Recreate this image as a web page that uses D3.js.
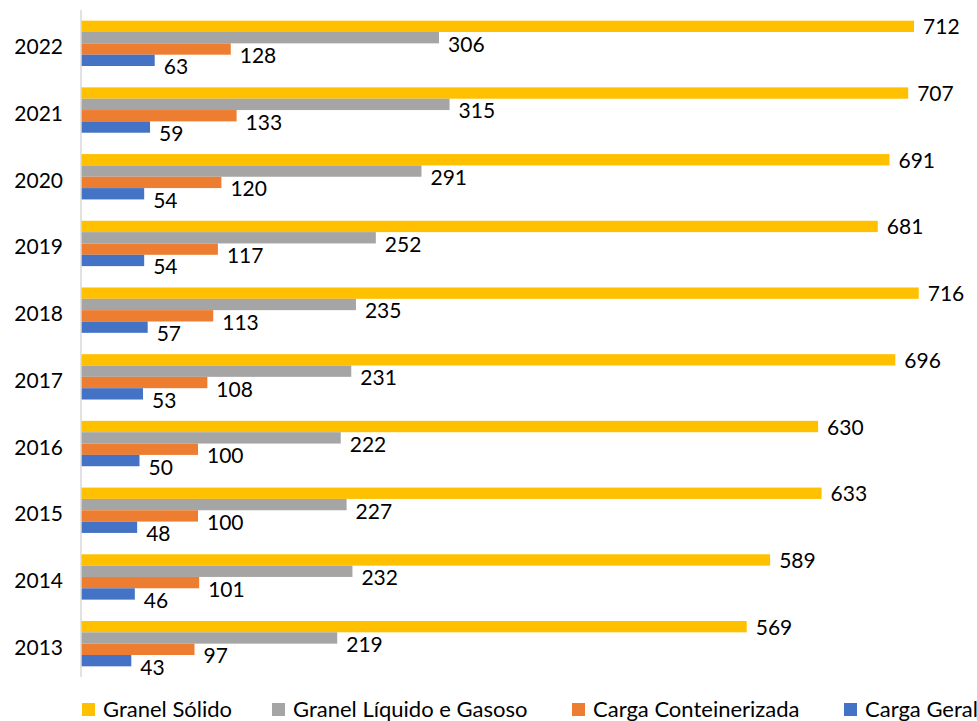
<!DOCTYPE html>
<html>
<head>
  <meta charset="utf-8">
  <script src="https://d3js.org/d3.v7.min.js"></script>
  <style>
    body { margin: 0; background: white; }
    text { font-family: Lato, "Open Sans", sans-serif; fill: #000; }
  </style>
</head>
<body>
  <div id="chart"></div>
  <script>
    var years = ["2022", "2021", "2020", "2019", "2018", "2017", "2016", "2015", "2014", "2013"];
    var seriesNames = ["Granel Sólido", "Granel Líquido e Gasoso", "Carga Conteinerizada", "Carga Geral"];
    var seriesColors = ["#FFC000", "#A5A5A5", "#ED7D31", "#4472C4"];

    var granelSolido = [712, 707, 691, 681, 716, 696, 630, 633, 589, 569];
    var granelLiquido = [306, 315, 291, 252, 235, 231, 222, 227, 232, 219];
    var cargaConteinerizada = [128, 133, 120, 117, 113, 108, 100, 100, 101, 97];
    var cargaGeral = [63, 59, 54, 54, 57, 53, 50, 48, 46, 43];

    var allSeries = [granelSolido, granelLiquido, cargaConteinerizada, cargaGeral];

    var width = 977, height = 721;
    var left = 81;

    var svg = d3.select("#chart").append("svg")
      .attr("width", width)
      .attr("height", height);

    var x = d3.scaleLinear().domain([0, 700]).range([left, left + 819]);

    var y = d3.scaleBand().domain(years).range([10, 677])
      .paddingInner(0.32).paddingOuter(0.16);

    var ySub = d3.scaleBand().domain(d3.range(seriesNames.length))
      .range([0, y.bandwidth()]);

    // bars
    var groups = svg.selectAll("g.year")
      .data(years)
      .enter().append("g")
      .attr("class", "year")
      .attr("transform", function (d) { return "translate(0," + y(d) + ")"; });

    groups.each(function (yr, i) {
      var g = d3.select(this);
      allSeries.forEach(function (vals, s) {
        var v = vals[i];
        var yy = ySub(s);
        g.append("rect")
          .attr("x", x(0))
          .attr("y", yy)
          .attr("width", x(v) - x(0))
          .attr("height", ySub.bandwidth())
          .attr("fill", seriesColors[s]);
        var mid = yy + ySub.bandwidth() / 2;
        g.append("text")
          .attr("x", x(v) + 9)
          .attr("y", mid + (s === 0 ? 8 : 14))
          .attr("font-size", "21px")
          .text(v);
      });
    });

    // axis line
    svg.append("line")
      .attr("x1", left).attr("x2", left)
      .attr("y1", 10).attr("y2", 677)
      .attr("stroke", "#D9D9D9")
      .attr("stroke-width", 1.5);

    // year labels
    svg.selectAll("text.ylab")
      .data(years)
      .enter().append("text")
      .attr("class", "ylab")
      .attr("x", 63)
      .attr("y", function (d) { return y(d) + y.bandwidth() / 2 + 11; })
      .attr("text-anchor", "end")
      .attr("font-size", "21px")
      .text(function (d) { return d; });

    // legend
    var legendX = [82, 272, 572, 844];
    var legend = svg.selectAll("g.legend")
      .data(seriesNames)
      .enter().append("g")
      .attr("class", "legend")
      .attr("transform", function (d, i) { return "translate(" + legendX[i] + ",698)"; });

    legend.append("rect")
      .attr("y", 5)
      .attr("width", 13).attr("height", 13)
      .attr("fill", function (d, i) { return seriesColors[i]; });

    legend.append("text")
      .attr("x", 21)
      .attr("y", 19)
      .attr("font-size", "22px")
      .text(function (d) { return d; });
  </script>
</body>
</html>
